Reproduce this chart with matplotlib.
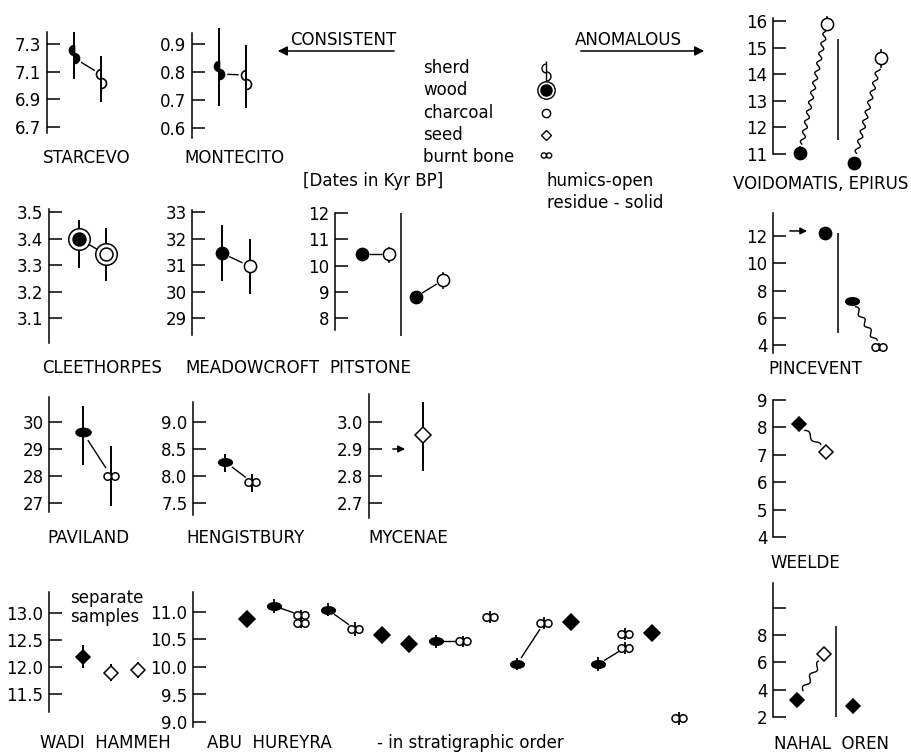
import numpy as np
import matplotlib
matplotlib.use('Agg')
import matplotlib.pyplot as plt
from matplotlib.path import Path
from matplotlib.transforms import Affine2D

plt.rcParams['font.family'] = ['DejaVu Sans']

W, H = 911, 753
PXU = 27.0  # pixels per category slot

# ------------------------------------------------------------------ data
# STARCEVO (sherd: two half-marker values per sample)
starcevo_ticks = [6.7, 6.9, 7.1, 7.3]
starcevo_labels = ['6.7', '6.9', '7.1', '7.3']
starcevo_x = [1, 2]
starcevo_upper = [7.26, 7.08]
starcevo_lower = [7.20, 7.02]
starcevo_err_lo = [7.05, 6.88]
starcevo_err_hi = [7.39, 7.21]
starcevo_solid = [True, False]

# MONTECITO (sherd)
montecito_ticks = [0.6, 0.7, 0.8, 0.9]
montecito_labels = ['0.6', '0.7', '0.8', '0.9']
montecito_x = [1, 2]
montecito_upper = [0.821, 0.789]
montecito_lower = [0.793, 0.757]
montecito_err_lo = [0.679, 0.671]
montecito_err_hi = [0.957, 0.896]
montecito_solid = [True, False]

# VOIDOMATIS, EPIRUS (charcoal)
voido_ticks = [11, 12, 13, 14, 15, 16]
voido_labels = ['11', '12', '13', '14', '15', '16']
voido_x = [1, 2, 3, 4]
voido_val = [11.04, 15.90, 10.66, 14.60]
voido_err_lo = [10.80, 15.70, 10.45, 14.25]
voido_err_hi = [11.30, 16.20, 10.85, 14.95]
voido_solid = [True, False, True, False]

# CLEETHORPES (wood)
cleet_ticks = [3.1, 3.2, 3.3, 3.4, 3.5]
cleet_labels = ['3.1', '3.2', '3.3', '3.4', '3.5']
cleet_x = [1.1, 2.1]
cleet_val = [3.40, 3.34]
cleet_err_lo = [3.29, 3.24]
cleet_err_hi = [3.47, 3.44]
cleet_solid = [True, False]

# MEADOWCROFT (charcoal)
meadow_ticks = [29, 30, 31, 32, 33]
meadow_labels = ['29', '30', '31', '32', '33']
meadow_x = [1.1, 2.15]
meadow_val = [31.45, 30.95]
meadow_err_lo = [30.4, 29.9]
meadow_err_hi = [32.5, 32.0]
meadow_solid = [True, False]

# PITSTONE (charcoal)
pitstone_ticks = [8, 9, 10, 11, 12]
pitstone_labels = ['8', '9', '10', '11', '12']
pitstone_x = [1, 2, 3, 4]
pitstone_val = [10.42, 10.42, 8.81, 9.44]
pitstone_err_lo = [10.20, 10.10, 8.62, 9.10]
pitstone_err_hi = [10.62, 10.72, 9.00, 9.75]
pitstone_solid = [True, False, True, False]

# PINCEVENT
pince_ticks = [4, 6, 8, 10, 12]
pince_labels = ['4', '6', '8', '10', '12']
pince_x = [1.93, 2.93, 3.93]
pince_val = [12.2, 7.25, 3.85]
pince_err_lo = [11.75, 7.25, 3.55]
pince_err_hi = [12.6, 7.25, 4.15]
pince_kind = ['charcoal', 'bone', 'bone']
pince_solid = [True, True, False]

# PAVILAND (burnt bone)
paviland_ticks = [27, 28, 29, 30]
paviland_labels = ['27', '28', '29', '30']
paviland_x = [1.25, 2.3]
paviland_val = [29.62, 28.0]
paviland_err_lo = [28.4, 26.9]
paviland_err_hi = [30.6, 29.1]
paviland_solid = [True, False]

# HENGISTBURY (burnt bone)
hengist_ticks = [7.5, 8.0, 8.5, 9.0]
hengist_labels = ['7.5', '8.0', '8.5', '9.0']
hengist_x = [1.2, 2.2]
hengist_val = [8.26, 7.88]
hengist_err_lo = [8.07, 7.71]
hengist_err_hi = [8.40, 8.03]
hengist_solid = [True, False]

# MYCENAE (seed)
mycenae_ticks = [2.7, 2.8, 2.9, 3.0]
mycenae_labels = ['2.7', '2.8', '2.9', '3.0']
mycenae_x = [2.0]
mycenae_val = [2.95]
mycenae_err_lo = [2.82]
mycenae_err_hi = [3.075]
mycenae_arrow_y = 2.9

# WEELDE (seed)
weelde_ticks = [4, 5, 6, 7, 8, 9]
weelde_labels = ['4', '5', '6', '7', '8', '9']
weelde_x = [0.95, 1.95]
weelde_val = [8.13, 7.10]
weelde_solid = [True, False]

# WADI HAMMEH (seed, separate samples)
wadi_ticks = [11.5, 12.0, 12.5, 13.0]
wadi_labels = ['11.5', '12.0', '12.5', '13.0']
wadi_x = [1.25, 2.3, 3.3]
wadi_val = [12.19, 11.89, 11.95]
wadi_err_lo = [11.98, 11.75, 11.80]
wadi_err_hi = [12.41, 12.05, 12.10]
wadi_solid = [True, False, False]

# ABU HUREYRA (stratigraphic order)
abu_ticks = [9.0, 9.5, 10.0, 10.5, 11.0]
abu_labels = ['9.0', '9.5', '10.0', '10.5', '11.0']
abu_slot = [2, 3, 4, 4, 5, 6, 7, 8, 9, 10, 11, 12, 13, 14, 15, 16, 16, 17, 18]
abu_val = [10.87, 11.11, 10.94, 10.80, 11.04, 10.69, 10.58, 10.42, 10.47, 10.47,
           10.91, 10.05, 10.80, 10.82, 10.05, 10.60, 10.35, 10.62, 9.07]
abu_sd = [0.13, 0.12, 0.10, 0.10, 0.12, 0.12, 0.15, 0.13, 0.12, 0.10,
          0.11, 0.11, 0.11, 0.12, 0.13, 0.11, 0.11, 0.13, 0.12]
abu_kind = ['seed', 'bone', 'bone', 'bone', 'bone', 'bone', 'seed', 'seed', 'bone', 'bone',
            'bone', 'bone', 'bone', 'seed', 'bone', 'bone', 'bone', 'seed', 'bone']
abu_solid = [1, 1, 0, 0, 1, 0, 1, 1, 1, 0, 0, 1, 0, 1, 1, 0, 0, 1, 0]
abu_links = [(1, 2), (4, 5), (8, 9), (11, 12), (14, 16)]

# NAHAL OREN (seed)
nahal_ticks = [2, 4, 6, 8, 10]
nahal_labels = ['2', '4', '6', '8', '']
nahal_x = [0.9, 1.9, 2.95]
nahal_val = [3.24, 6.6, 2.8]
nahal_solid = [True, False, True]

legend_names = ['sherd', 'wood', 'charcoal', 'seed', 'burnt bone']

# ------------------------------------------------------------------ helpers
fig = plt.figure(figsize=(W / 100, H / 100), dpi=100)
over = fig.add_axes([0, 0, 1, 1])
over.set_xlim(0, W)
over.set_ylim(H, 0)
over.axis('off')

BONE_OPEN = Path.make_compound_path(Path.circle((-1, 0), 1), Path.circle((1, 0), 1))
BONE_SOLID = Path.unit_circle().transformed(Affine2D().scale(1, 0.55))
HALF_L_SOLID = Path.wedge(90, 270)
HALF_R_SOLID = Path.wedge(-90, 90)
HALF_L_OPEN = Path.arc(90, 270)
HALF_R_OPEN = Path.arc(-90, 90)

LW = 1.1


def make_panel(left, top, bottom, width, ref_hi, ref_lo, ticks, labels):
    (v1, p1), (v2, p2) = ref_hi, ref_lo
    s = (v1 - v2) / (p2 - p1)
    ax = fig.add_axes([left / W, 1 - bottom / H, width / W, (bottom - top) / H])
    ax.set_ylim(v2 - (bottom - p2) * s, v1 + (p1 - top) * s)
    ax.set_xlim(0, width / PXU)
    for k in ('top', 'right', 'bottom'):
        ax.spines[k].set_visible(False)
    ax.spines['left'].set_linewidth(LW)
    ax.set_xticks([])
    ax.set_yticks(ticks)
    ax.set_yticklabels(labels)
    ax.tick_params(axis='y', direction='in', length=9.5, width=LW, labelsize=12, pad=4)
    ax.patch.set_visible(False)
    return ax


def err(ax, x, lo, hi, lw=1.4):
    ax.vlines(x, lo, hi, colors='k', lw=lw, clip_on=False, zorder=2)


def point(ax, x, y, kind, solid, ms=None):
    fc = 'k' if solid else 'white'
    kw = dict(ls='none', clip_on=False, zorder=4, mec='k', mew=1.1)
    if kind == 'charcoal':
        ax.plot(x, y, marker='o', ms=ms or 8.8, mfc=fc, **kw)
    elif kind == 'wood':
        ax.plot(x, y, marker='o', ms=ms or 15.5, mfc='white', **kw)
        ax.plot(x, y, marker='o', ms=(ms or 15.5) * 0.6, mfc=fc, **kw)
    elif kind == 'seed':
        ax.plot(x, y, marker='D', ms=ms or 7.2, mfc=fc, **kw)
    elif kind == 'bone':
        if solid:
            ax.plot(x, y, marker=BONE_SOLID, ms=ms or 9.8, mfc='k', **kw)
        else:
            ax.plot(x, y, marker=BONE_OPEN, ms=ms or 10.8, mfc='white', **kw)


def sherd(ax, x, upper, lower, solid, ms=7.2):
    kw = dict(ls='none', clip_on=False, zorder=4, mec='k', mew=1.2)
    if solid:
        ax.plot(x, upper, marker=HALF_L_SOLID, ms=ms, mfc='k', **kw)
        ax.plot(x, lower, marker=HALF_R_SOLID, ms=ms, mfc='k', **kw)
    else:
        ax.plot(x, upper, marker=HALF_L_OPEN, ms=ms, mfc='none', **kw)
        ax.plot(x, lower, marker=HALF_R_OPEN, ms=ms, mfc='none', **kw)


def link(ax, x0, y0, x1, y1, gap0=8, gap1=8, wavy=False, amp=2.2, wl=9.0, lw=1.0):
    T = ax.transData
    p0 = np.array(T.transform((x0, y0)))
    p1 = np.array(T.transform((x1, y1)))
    d = p1 - p0
    L = np.hypot(*d)
    u = d / L
    n = np.array([-u[1], u[0]])
    t = np.linspace(gap0, L - gap1, 300)
    off = amp * np.sin(2 * np.pi * (t - gap0) / wl) if wavy else np.zeros_like(t)
    pts = p0 + np.outer(t, u) + np.outer(off, n)
    dat = T.inverted().transform(pts)
    ax.plot(dat[:, 0], dat[:, 1], color='k', lw=lw, clip_on=False, zorder=3)


def divider(ax, x, lo, hi):
    ax.vlines(x, lo, hi, colors='k', lw=LW, clip_on=False, zorder=2)


def label(x, y, s, ha='center', size=12):
    over.text(x, y, s, ha=ha, va='center', fontsize=size)


# ------------------------------------------------------------------ panels
# STARCEVO
ax = make_panel(47, 32, 133, 80, (7.3, 44), (6.7, 127), starcevo_ticks, starcevo_labels)
for i in range(2):
    err(ax, starcevo_x[i], starcevo_err_lo[i], starcevo_err_hi[i])
    sherd(ax, starcevo_x[i], starcevo_upper[i], starcevo_lower[i], starcevo_solid[i])
link(ax, starcevo_x[0], starcevo_lower[0], starcevo_x[1], starcevo_upper[1], gap0=9, gap1=8)
label(87, 158, 'STARCEVO')

# MONTECITO
ax = make_panel(192, 33, 138, 80, (0.9, 44), (0.6, 128), montecito_ticks, montecito_labels)
for i in range(2):
    err(ax, montecito_x[i], montecito_err_lo[i], montecito_err_hi[i])
    sherd(ax, montecito_x[i], montecito_upper[i], montecito_lower[i], montecito_solid[i])
link(ax, montecito_x[0], montecito_lower[0], montecito_x[1], montecito_upper[1], gap0=9, gap1=8)
label(234, 158, 'MONTECITO')

# VOIDOMATIS
ax = make_panel(773, 18, 154, 130, (16, 21), (11, 154), voido_ticks, voido_labels)
for i in range(4):
    err(ax, voido_x[i], voido_err_lo[i], voido_err_hi[i], lw=1.1)
    point(ax, voido_x[i], voido_val[i], 'charcoal', voido_solid[i])
link(ax, voido_x[0], voido_val[0], voido_x[1], voido_val[1], gap0=9, gap1=8, wavy=True, amp=2.0, wl=10)
link(ax, voido_x[2], voido_val[2], voido_x[3], voido_val[3], gap0=10, gap1=11, wavy=True, amp=2.0, wl=10)
divider(ax, 2.4, 11.53, 15.32)
label(821, 184, 'VOIDOMATIS, EPIRUS')

# CLEETHORPES
ax = make_panel(49, 209, 343, 80, (3.5, 212), (3.1, 318), cleet_ticks, cleet_labels)
for i in range(2):
    err(ax, cleet_x[i], cleet_err_lo[i], cleet_err_hi[i])
    point(ax, cleet_x[i], cleet_val[i], 'wood', cleet_solid[i])
link(ax, cleet_x[0], cleet_val[0], cleet_x[1], cleet_val[1], gap0=11, gap1=11)
label(102, 368, 'CLEETHORPES')

# MEADOWCROFT
ax = make_panel(192, 210, 335, 80, (33, 212), (29, 318), meadow_ticks, meadow_labels)
for i in range(2):
    err(ax, meadow_x[i], meadow_err_lo[i], meadow_err_hi[i])
    point(ax, meadow_x[i], meadow_val[i], 'charcoal', meadow_solid[i])
link(ax, meadow_x[0], meadow_val[0], meadow_x[1], meadow_val[1], gap0=9, gap1=9)
label(252, 368, 'MEADOWCROFT')

# PITSTONE
ax = make_panel(335, 213, 330, 130, (12, 213), (8, 318), pitstone_ticks, pitstone_labels)
for i in range(4):
    err(ax, pitstone_x[i], pitstone_err_lo[i], pitstone_err_hi[i], lw=1.1)
    point(ax, pitstone_x[i], pitstone_val[i], 'charcoal', pitstone_solid[i])
link(ax, pitstone_x[0], pitstone_val[0], pitstone_x[1], pitstone_val[1], gap0=8, gap1=8)
link(ax, pitstone_x[2], pitstone_val[2], pitstone_x[3], pitstone_val[3], gap0=8, gap1=8)
divider(ax, 2.45, 7.3, 12.0)
label(370, 368, 'PITSTONE')

# PINCEVENT
ax = make_panel(773, 213, 353, 130, (12, 236), (4, 345), pince_ticks, pince_labels)
for i in range(3):
    err(ax, pince_x[i], pince_err_lo[i], pince_err_hi[i], lw=1.1)
    point(ax, pince_x[i], pince_val[i], pince_kind[i], pince_solid[i])
link(ax, pince_x[1], pince_val[1], pince_x[2], pince_val[2], gap0=7, gap1=7, wavy=True, amp=2.0, wl=12)
divider(ax, 2.41, 4.9, 12.2)
ax.annotate('', xy=(1.37, 12.37), xytext=(0.52, 12.37),
            arrowprops=dict(arrowstyle='-|>', color='k', lw=1.1, mutation_scale=10))
label(815, 369, 'PINCEVENT')

# PAVILAND
ax = make_panel(49, 397, 512, 80, (30, 422), (27, 503), paviland_ticks, paviland_labels)
for i in range(2):
    err(ax, paviland_x[i], paviland_err_lo[i], paviland_err_hi[i])
    point(ax, paviland_x[i], paviland_val[i], 'bone', paviland_solid[i], ms=10.8)
link(ax, paviland_x[0], paviland_val[0], paviland_x[1], paviland_val[1], gap0=10, gap1=10)
label(88, 538, 'PAVILAND')

# HENGISTBURY
ax = make_panel(193, 402, 515, 80, (9.0, 422), (7.5, 503), hengist_ticks, hengist_labels)
for i in range(2):
    err(ax, hengist_x[i], hengist_err_lo[i], hengist_err_hi[i])
    point(ax, hengist_x[i], hengist_val[i], 'bone', hengist_solid[i])
link(ax, hengist_x[0], hengist_val[0], hengist_x[1], hengist_val[1], gap0=9, gap1=9)
label(245, 538, 'HENGISTBURY')

# MYCENAE
ax = make_panel(369, 394, 518, 80, (3.0, 422), (2.7, 503), mycenae_ticks, mycenae_labels)
err(ax, mycenae_x[0], mycenae_err_lo[0], mycenae_err_hi[0])
point(ax, mycenae_x[0], mycenae_val[0], 'seed', False, ms=8)
ax.annotate('', xy=(1.44, mycenae_arrow_y), xytext=(0.78, mycenae_arrow_y),
            arrowprops=dict(arrowstyle='-|>', color='k', lw=1.1, mutation_scale=10))
label(408, 538, 'MYCENAE')

# WEELDE
ax = make_panel(773, 400, 537, 80, (9, 400), (4, 537), weelde_ticks, weelde_labels)
for i in range(2):
    point(ax, weelde_x[i], weelde_val[i], 'seed', weelde_solid[i], ms=7.4)
link(ax, weelde_x[0], weelde_val[0], weelde_x[1], weelde_val[1], gap0=9, gap1=9, wavy=True, amp=2.0, wl=16)
label(805, 563, 'WEELDE')

# WADI HAMMEH
ax = make_panel(49, 592, 712, 110, (13.0, 613), (11.5, 694), wadi_ticks, wadi_labels)
for i in range(3):
    err(ax, wadi_x[i], wadi_err_lo[i], wadi_err_hi[i])
    point(ax, wadi_x[i], wadi_val[i], 'seed', wadi_solid[i], ms=7.4)
label(70, 598, 'separate', ha='left')
label(70, 617, 'samples', ha='left')
label(105, 743, 'WADI  HAMMEH')

# ABU HUREYRA
ax = make_panel(193, 592, 727, 500, (11.0, 612), (9.0, 722), abu_ticks, abu_labels)
for i in range(len(abu_val)):
    err(ax, abu_slot[i], abu_val[i] - abu_sd[i], abu_val[i] + abu_sd[i], lw=1.3)
    point(ax, abu_slot[i], abu_val[i], abu_kind[i], bool(abu_solid[i]),
          ms=8.0 if abu_kind[i] == 'seed' else None)
for a, b in abu_links:
    link(ax, abu_slot[a], abu_val[a], abu_slot[b], abu_val[b], gap0=8, gap1=8)
label(269, 743, 'ABU  HUREYRA')
label(377, 743, '- in stratigraphic order', ha='left')

# NAHAL OREN
ax = make_panel(773, 583, 717, 100, (8, 635), (2, 717), nahal_ticks, nahal_labels)
for i in range(3):
    point(ax, nahal_x[i], nahal_val[i], 'seed', nahal_solid[i], ms=7.4)
link(ax, nahal_x[0], nahal_val[0], nahal_x[1], nahal_val[1], gap0=11, gap1=9, wavy=True, amp=2.2, wl=14)
divider(ax, 2.35, 2.0, 8.66)
label(831, 744, 'NAHAL  OREN')

# ------------------------------------------------------------------ header / legend
label(343, 40, 'CONSISTENT')
over.annotate('', xy=(275, 51), xytext=(397, 51),
              arrowprops=dict(arrowstyle='-|>', color='k', lw=1.1, mutation_scale=14))
label(628, 40, 'ANOMALOUS')
over.annotate('', xy=(707, 51), xytext=(578, 51),
              arrowprops=dict(arrowstyle='-|>', color='k', lw=1.1, mutation_scale=14))

leg_y = [68, 90, 113, 135, 157]
for name, y in zip(legend_names, leg_y):
    over.text(423, y, name, ha='left', va='center', fontsize=12)
sx = 546
over.vlines(sx, 61, 83, colors='k', lw=1.0)
over.plot(sx, 68, marker=HALF_L_OPEN, ms=6.5, mfc='none', mec='k', mew=1.0, ls='none')
over.plot(sx, 76, marker=HALF_R_OPEN, ms=6.5, mfc='none', mec='k', mew=1.0, ls='none')
over.plot(sx, 90, marker='o', ms=12.5, mfc='white', mec='k', mew=1.0, ls='none')
over.plot(sx, 90, marker='o', ms=8, mfc='k', mec='k', mew=1.0, ls='none')
over.plot(sx, 113, marker='o', ms=6, mfc='white', mec='k', mew=1.0, ls='none')
over.plot(sx, 135, marker='D', ms=5.5, mfc='white', mec='k', mew=1.0, ls='none')
over.plot(sx, 155, marker=BONE_OPEN, ms=7.5, mfc='white', mec='k', mew=1.0, ls='none')

label(303, 181, '[Dates in Kyr BP]', ha='left')
label(547, 181, 'humics-open', ha='left')
label(547, 203, 'residue - solid', ha='left')

fig.savefig('out.png', dpi=100)
